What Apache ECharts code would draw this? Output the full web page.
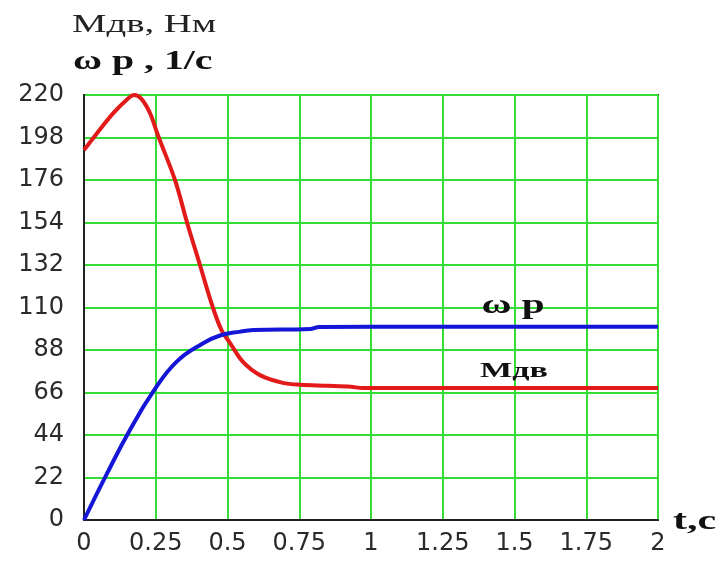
<!DOCTYPE html>
<html><head><meta charset="utf-8">
<script src="https://cdn.jsdelivr.net/npm/echarts@6/dist/echarts.min.js"></script>
<style>html,body{margin:0;padding:0;background:#fff}#c{width:725px;height:561px}</style>
</head><body><div id="c"></div>
<script>
// time values (s) and curves
const torqueT = [0, 0.044, 0.102, 0.149, 0.175, 0.2, 0.23, 0.258, 0.317, 0.359, 0.404, 0.449, 0.48, 0.509, 0.554, 0.613, 0.693, 0.753, 0.85, 0.93, 0.97, 1.5, 2];
const torqueM = [191.5, 200, 210.6, 217.6, 220, 218, 210.6, 199, 176, 154, 132, 110, 98, 91.6, 81.8, 75, 71, 70, 69.5, 69, 68.3, 68.3, 68.3];
const speedT = [0, 0.08, 0.16, 0.241, 0.323, 0.415, 0.474, 0.544, 0.59, 0.79, 0.82, 1.2, 2];
const speedW = [0, 24, 46.6, 66.4, 82, 91.5, 95.5, 97.5, 98.3, 98.9, 99.9, 100, 100];
const xTicks = [0, 0.25, 0.5, 0.75, 1, 1.25, 1.5, 1.75, 2];
const yTicks = [0, 22, 44, 66, 88, 110, 132, 154, 176, 198, 220];
const seriesLabels = [{text: 'ω p', t: 1.385, v: 111, size: 28, sx: 1.47}, {text: 'Мдв', t: 1.38, v: 77, size: 22, sx: 1.55}];

const chart = echarts.init(document.getElementById('c'));
const pairs = (a, b) => a.map((x, i) => [x, b[i]]);
const tickFont = {fontFamily: 'DejaVu Sans', fontSize: 24, color: '#2a2a2a'};
chart.setOption({
  backgroundColor: '#fff',
  animation: false,
  grid: {left: 84, right: 67, top: 95, bottom: 41, show: true, borderColor: '#333', borderWidth: 2, backgroundColor: 'transparent'},
  xAxis: {
    type: 'value', min: xTicks[0], max: xTicks[xTicks.length - 1], interval: 0.25,
    axisLine: {show: true, onZero: false, lineStyle: {color: '#222', width: 2}},
    axisTick: {show: false},
    splitLine: {show: true, lineStyle: {color: '#35dd35', width: 2}},
    axisLabel: Object.assign({margin: 12, formatter: v => String(v)}, tickFont)
  },
  yAxis: {
    type: 'value', min: yTicks[0], max: yTicks[yTicks.length - 1], interval: 22,
    axisLine: {show: true, lineStyle: {color: '#222', width: 2}},
    axisTick: {show: false},
    splitLine: {show: true, lineStyle: {color: '#35dd35', width: 2}},
    axisLabel: Object.assign({margin: 20}, tickFont)
  },
  series: [
    {type: 'line', data: pairs(torqueT, torqueM), smooth: 0.35, symbol: 'none', lineStyle: {color: '#e31a1a', width: 4}, z: 3},
    {type: 'line', data: pairs(speedT, speedW), smooth: 0.45, symbol: 'none', lineStyle: {color: '#1515d8', width: 4}, z: 4}
  ]
});

const labelEls = seriesLabels.map(l => {
  const p = chart.convertToPixel({gridIndex: 0}, [l.t, l.v]);
  return {type: 'text', x: p[0], y: p[1], scaleX: l.sx,
    style: {text: l.text, fontFamily: 'Liberation Serif', fontWeight: 'bold', fontSize: l.size, fill: '#111', align: 'left', verticalAlign: 'middle'}};
});
chart.setOption({graphic: [
  {type: 'text', x: 72, y: 25, scaleX: 1.55, style: {text: 'Мдв, Нм', fontFamily: 'Liberation Serif', fontSize: 25, fill: '#222', verticalAlign: 'middle'}},
  {type: 'text', x: 73, y: 62, scaleX: 1.42, style: {text: 'ω p , 1/c', fontFamily: 'Liberation Serif', fontWeight: 'bold', fontSize: 28, fill: '#111', verticalAlign: 'middle'}},
  {type: 'text', x: 673, y: 522, scaleX: 1.5, style: {text: 't,c', fontFamily: 'Liberation Serif', fontWeight: 'bold', fontSize: 28, fill: '#111', verticalAlign: 'middle'}}
].concat(labelEls)});
</script></body></html>
